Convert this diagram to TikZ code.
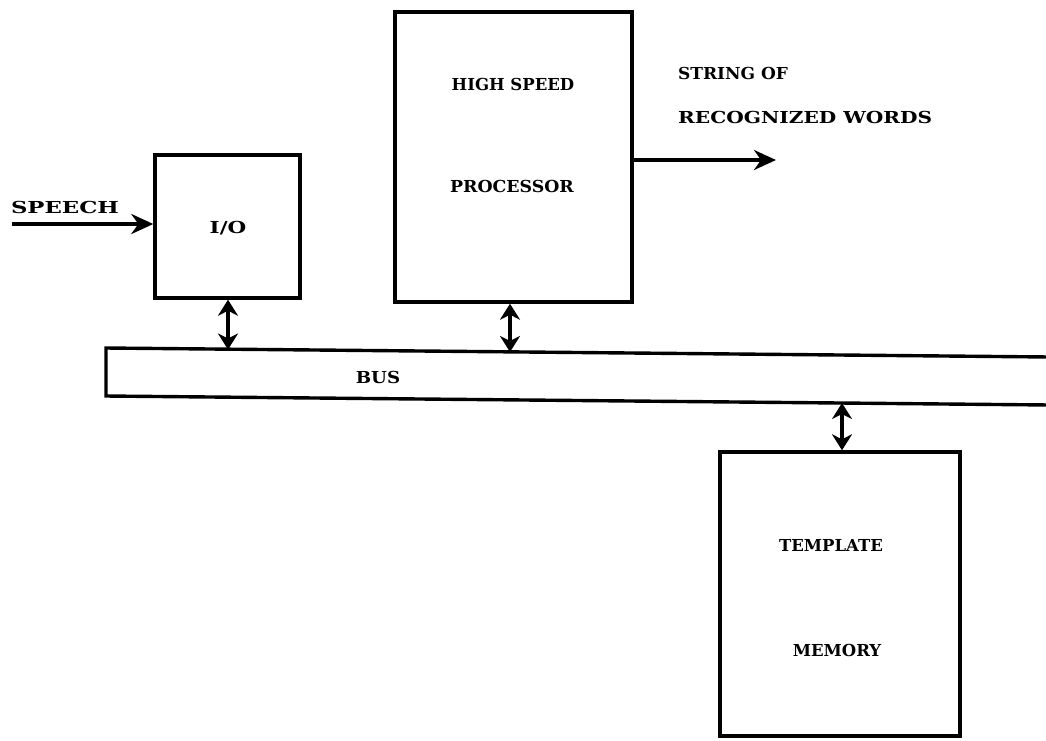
\documentclass[tikz,border=0pt]{standalone}
\usepackage{graphicx}
\usepackage{fontspec}
\setmainfont{DejaVu Serif}
\usetikzlibrary{arrows.meta}
\newcommand\hx[2]{\scalebox{#1}[1]{#2}}
\tikzset{
  blk/.style={draw, line width=3.4pt, rectangle, inner sep=0pt},
  lbl/.style={font=\bfseries\fontsize{16.5}{19}\selectfont, inner sep=0pt},
  arr/.style={line width=3.4pt, -{Stealth[length=22pt,width=20pt,inset=7pt]}},
  darr/.style={line width=3.2pt, {Stealth[length=16pt,width=20pt,inset=5pt]}-{Stealth[length=16pt,width=20pt,inset=5pt]}},
  busline/.style={line width=3.4pt}
}
\begin{document}
\begin{tikzpicture}[x=1pt,y=-1pt]
\useasboundingbox (0,0) rectangle (1046,740);
% boxes
\node[blk, minimum width=145pt, minimum height=143pt] (io) at (227.5,226.5) {};
\node[blk, minimum width=237pt, minimum height=290pt] (proc) at (513.5,157) {};
\node[blk, minimum width=240pt, minimum height=284pt] (mem) at (840,594) {};
% bus
\coordinate (btl) at (106,348);
\coordinate (btr) at (1050,357);
\coordinate (bbl) at (106,396);
\coordinate (bbr) at (1050,405);
\draw[busline, line join=miter] (btr) -- (btl) -- (bbl) -- (bbr);
\node[lbl] (bus) at (378,377) {\hx{1.1}{BUS}};
% labels
\node[lbl] (iol) at (228,228) {\hx{1.3}{I/O}};
\node[lbl] (hs) at (513,84) {HIGH SPEED};
\node[lbl] (pr) at (512,186) {\hx{1.05}{PROCESSOR}};
\node[lbl] (tp) at (831,545) {TEMPLATE};
\node[lbl] (mm) at (837,650) {MEMORY};
\node[lbl, anchor=west] (sof) at (678,73) {\hx{1.03}{STRING OF}};
\node[lbl, anchor=west] (rw) at (678,117) {\hx{1.22}{RECOGNIZED WORDS}};
\node[lbl] (sp) at (65,207) {\hx{1.38}{SPEECH}};
% connectors
\coordinate (spin) at (12,224);
\draw[arr] (spin) -- (spin -| io.west);
\coordinate (outc) at (776,160);
\draw[arr] (outc -| proc.east) -- (outc);
\coordinate (busio) at (228,349.5);
\coordinate (buspr) at (510,352);
\coordinate (busmm) at (842,403);
\draw[darr] (io.south -| busio) -- (busio);
\draw[darr] (proc.south -| buspr) -- (buspr);
\draw[darr] (busmm) -- (busmm |- mem.north);
\end{tikzpicture}
\end{document}
